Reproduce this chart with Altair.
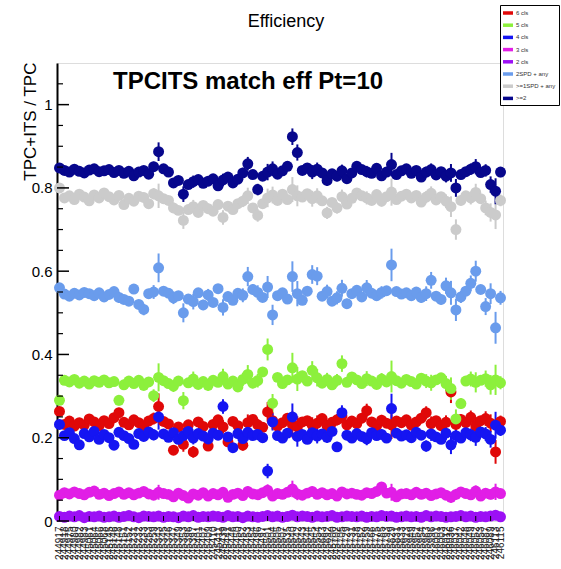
import json
import math
import altair as alt
import pandas as pd

# ---------------- data ----------------
runs = [244917, 244918, 244975, 244980, 244982, 244983, 245061, 245064, 245066, 245068,
        245145, 245146, 245148, 245151, 245152, 245231, 245232, 245233, 245253, 245259,
        245343, 245345, 245346, 245347, 245349, 245353, 245396, 245397, 245401, 245407,
        245409, 245410, 245411, 245439, 245441, 245446, 245450, 245452, 245453, 245454,
        245496, 245497, 245501, 245504, 245505, 245507, 245535, 245540, 245542, 245543,
        245544, 245545, 245554, 245683, 245692, 245700, 245702, 245705, 245729, 245731,
        245738, 245752, 245759, 245766, 245775, 245785, 245793, 245829, 245831, 245833,
        245923, 245949, 245952, 245954, 245963, 245996, 246001, 246003, 246012, 246036,
        246037, 246042, 246048, 246049, 246052, 246053, 246087, 246089, 246113, 246115]

# TPC tracks per run (sets the size of the binomial error bars)
tracks = [4200, 5100, 4800, 5300, 2900, 4600, 5000, 3800, 4900, 4400,
          5200, 2600, 1400, 4700, 3100, 2200, 4300, 1300, 3600, 900,
          200, 3300, 2700, 1100, 3900, 480, 2400, 700, 4100, 1600,
          1200, 3500, 2800, 650, 1700, 3000, 2500, 900, 450, 1500,
          850, 3200, 350, 420, 2900, 3700, 1900, 180, 270, 2100,
          3400, 480, 520, 2600, 900, 3100, 1000, 600, 1800, 2700,
          3900, 2300, 700, 3300, 2000, 1100, 2900, 155, 2400, 3600,
          4100, 2600, 3500, 1500, 800, 600, 2800, 1700, 650, 300,
          350, 1200, 3800, 700, 380, 2500, 600, 400, 170, 900]

names = ["6 cls", "5 cls", "4 cls", "3 cls", "2 cls", "2SPD + any", ">=1SPD + any", ">=2"]
colors = ["#e00808", "#8cf03c", "#1515f2", "#e11ee6", "#9c10f5", "#6a9cec", "#cbcbcb", "#07078c"]

eff_6cls = [0.263, 0.232, 0.240, 0.228, 0.236, 0.230, 0.245, 0.238, 0.229, 0.241,
            0.234, 0.248, 0.260, 0.237, 0.231, 0.243, 0.236, 0.228, 0.240, 0.246,
            0.275, 0.239, 0.233, 0.170, 0.226, 0.184, 0.231, 0.166, 0.238, 0.227,
            0.180, 0.232, 0.243, 0.226, 0.190, 0.239, 0.229, 0.182, 0.236, 0.244,
            0.231, 0.225, 0.262, 0.241, 0.228, 0.236, 0.247, 0.232, 0.226, 0.238,
            0.241, 0.230, 0.235, 0.246, 0.229, 0.237, 0.243, 0.252, 0.231, 0.240,
            0.234, 0.247, 0.265, 0.238, 0.229, 0.242, 0.235, 0.231, 0.240, 0.236,
            0.243, 0.230, 0.238, 0.247, 0.260, 0.234, 0.241, 0.229, 0.237, 0.310,
            0.232, 0.244, 0.236, 0.249, 0.228, 0.241, 0.246, 0.235, 0.166, 0.239]

eff_5cls = [0.290, 0.338, 0.334, 0.340, 0.331, 0.336, 0.329, 0.337, 0.333, 0.339,
            0.332, 0.335, 0.290, 0.327, 0.336, 0.330, 0.338, 0.326, 0.334, 0.301,
            0.345, 0.337, 0.330, 0.324, 0.336, 0.289, 0.332, 0.341, 0.328, 0.335,
            0.326, 0.338, 0.333, 0.347, 0.329, 0.336, 0.322, 0.340, 0.352, 0.331,
            0.337, 0.358, 0.412, 0.283, 0.345, 0.330, 0.339, 0.368, 0.341, 0.349,
            0.336, 0.362, 0.344, 0.331, 0.340, 0.327, 0.338, 0.378, 0.333, 0.346,
            0.339, 0.330, 0.342, 0.336, 0.328, 0.341, 0.334, 0.347, 0.337, 0.331,
            0.340, 0.335, 0.329, 0.343, 0.336, 0.332, 0.339, 0.344, 0.330, 0.318,
            0.245, 0.282, 0.336, 0.341, 0.333, 0.338, 0.342, 0.327, 0.339, 0.332]

eff_4cls = [0.232, 0.205, 0.212, 0.198, 0.183, 0.210, 0.202, 0.215, 0.196, 0.208,
            0.200, 0.182, 0.213, 0.205, 0.198, 0.184, 0.210, 0.203, 0.214, 0.207,
            0.250, 0.209, 0.201, 0.212, 0.196, 0.205, 0.215, 0.199, 0.210, 0.204,
            0.197, 0.211, 0.206, 0.275, 0.202, 0.176, 0.210, 0.198, 0.213, 0.205,
            0.208, 0.200, 0.120, 0.238, 0.205, 0.199, 0.211, 0.250, 0.203, 0.208,
            0.196, 0.212, 0.204, 0.209, 0.201, 0.215, 0.178, 0.260, 0.206, 0.199,
            0.210, 0.203, 0.197, 0.212, 0.205, 0.208, 0.199, 0.270, 0.211, 0.204,
            0.207, 0.200, 0.213, 0.206, 0.180, 0.209, 0.202, 0.196, 0.211, 0.183,
            0.205, 0.199, 0.212, 0.207, 0.201, 0.214, 0.209, 0.196, 0.230, 0.218]

eff_3cls = [0.062, 0.068, 0.065, 0.070, 0.066, 0.063, 0.069, 0.072, 0.064, 0.067,
            0.061, 0.066, 0.070, 0.064, 0.068, 0.063, 0.067, 0.071, 0.065, 0.062,
            0.069, 0.066, 0.064, 0.058, 0.067, 0.061, 0.055, 0.065, 0.062, 0.068,
            0.060, 0.066, 0.063, 0.069, 0.057, 0.064, 0.067, 0.061, 0.071, 0.065,
            0.063, 0.068, 0.074, 0.060, 0.066, 0.064, 0.069, 0.077, 0.065, 0.062,
            0.067, 0.071, 0.064, 0.068, 0.063, 0.066, 0.060, 0.070, 0.065, 0.067,
            0.064, 0.062, 0.068, 0.066, 0.071, 0.082, 0.067, 0.069, 0.058, 0.065,
            0.066, 0.063, 0.069, 0.064, 0.067, 0.061, 0.065, 0.068, 0.062, 0.057,
            0.064, 0.070, 0.066, 0.063, 0.072, 0.060, 0.067, 0.064, 0.070, 0.066]

eff_2cls = [0.011, 0.009, 0.012, 0.010, 0.013, 0.008, 0.011, 0.010, 0.012, 0.009,
            0.010, 0.012, 0.009, 0.011, 0.013, 0.010, 0.008, 0.012, 0.011, 0.010,
            0.012, 0.009, 0.011, 0.010, 0.008, 0.012, 0.010, 0.013, 0.009, 0.011,
            0.010, 0.012, 0.011, 0.009, 0.013, 0.010, 0.011, 0.008, 0.012, 0.010,
            0.009, 0.011, 0.013, 0.010, 0.012, 0.009, 0.011, 0.014, 0.010, 0.012,
            0.011, 0.009, 0.012, 0.010, 0.011, 0.013, 0.009, 0.010, 0.012, 0.011,
            0.010, 0.012, 0.009, 0.011, 0.010, 0.013, 0.011, 0.012, 0.009, 0.010,
            0.012, 0.010, 0.011, 0.009, 0.013, 0.010, 0.012, 0.011, 0.009, 0.010,
            0.011, 0.013, 0.010, 0.012, 0.009, 0.011, 0.010, 0.012, 0.014, 0.010]

eff_2spd = [0.560, 0.545, 0.540, 0.547, 0.543, 0.549, 0.546, 0.541, 0.548, 0.538,
            0.544, 0.551, 0.537, 0.532, 0.528, 0.557, 0.520, 0.508, 0.546, 0.550,
            0.608, 0.552, 0.547, 0.536, 0.541, 0.500, 0.533, 0.527, 0.548, 0.519,
            0.543, 0.525, 0.558, 0.513, 0.539, 0.530, 0.547, 0.542, 0.587, 0.556,
            0.549, 0.537, 0.562, 0.495, 0.541, 0.548, 0.533, 0.587, 0.546, 0.530,
            0.552, 0.592, 0.588, 0.540, 0.551, 0.528, 0.536, 0.559, 0.522, 0.546,
            0.554, 0.538, 0.560, 0.547, 0.541, 0.549, 0.553, 0.615, 0.551, 0.545,
            0.548, 0.541, 0.550, 0.537, 0.546, 0.578, 0.540, 0.532, 0.565, 0.548,
            0.507, 0.538, 0.552, 0.571, 0.600, 0.556, 0.515, 0.546, 0.464, 0.536]

eff_1spd = [0.800, 0.776, 0.781, 0.772, 0.785, 0.778, 0.769, 0.783, 0.776, 0.788,
            0.779, 0.771, 0.782, 0.760, 0.775, 0.768, 0.780, 0.777, 0.762, 0.786,
            0.781, 0.774, 0.770, 0.752, 0.746, 0.722, 0.748, 0.755, 0.741, 0.758,
            0.750, 0.744, 0.760, 0.729, 0.756, 0.748, 0.762, 0.768, 0.781, 0.752,
            0.734, 0.762, 0.776, 0.783, 0.770, 0.785, 0.772, 0.796, 0.781, 0.778,
            0.786, 0.774, 0.781, 0.769, 0.740, 0.765, 0.752, 0.779, 0.761, 0.775,
            0.788, 0.781, 0.776, 0.770, 0.784, 0.768, 0.779, 0.790, 0.772, 0.780,
            0.785, 0.776, 0.782, 0.766, 0.778, 0.787, 0.771, 0.779, 0.768, 0.755,
            0.700, 0.770, 0.781, 0.776, 0.789, 0.774, 0.752, 0.741, 0.735, 0.770]

eff_ge2 = [0.848, 0.842, 0.838, 0.845, 0.840, 0.836, 0.843, 0.846, 0.839, 0.841,
           0.844, 0.837, 0.842, 0.835, 0.840, 0.829, 0.838, 0.842, 0.833, 0.851,
           0.887, 0.846, 0.838, 0.812, 0.818, 0.785, 0.808, 0.815, 0.820, 0.811,
           0.816, 0.822, 0.805, 0.819, 0.826, 0.812, 0.821, 0.836, 0.858, 0.832,
           0.796, 0.828, 0.838, 0.846, 0.833, 0.841, 0.852, 0.923, 0.885, 0.842,
           0.848, 0.838, 0.845, 0.836, 0.818, 0.834, 0.828, 0.841, 0.822, 0.836,
           0.852, 0.844, 0.839, 0.835, 0.847, 0.829, 0.838, 0.856, 0.832, 0.841,
           0.846, 0.835, 0.842, 0.826, 0.838, 0.844, 0.831, 0.839, 0.828, 0.836,
           0.800, 0.832, 0.839, 0.845, 0.851, 0.837, 0.842, 0.808, 0.792, 0.838]

y_label_values = [0, 0.2, 0.4, 0.6, 0.8, 1]
y_minor_ticks = [0.05, 0.1, 0.15, 0.25, 0.3, 0.35, 0.45, 0.5, 0.55, 0.65, 0.7, 0.75,
                 0.85, 0.9, 0.95, 1.05]
x_ticks = [0, 3, 6, 9, 12, 15, 18, 21, 24, 27, 30, 33, 36, 39, 42, 45, 48, 51, 54,
           57, 60, 63, 66, 69, 72, 75, 78, 81, 84, 87]

plot_title = "Efficiency"
inner_title = "TPCITS match eff Pt=10"
y_title = "TPC+ITS / TPC"

# ---------------- build table ----------------
series = [eff_6cls, eff_5cls, eff_4cls, eff_3cls, eff_2cls, eff_2spd, eff_1spd, eff_ge2]
rows = []
for name, vals in zip(names, series):
    for i, (r, v, n) in enumerate(zip(runs, vals, tracks)):
        err = math.sqrt(v * (1 - v) / n)
        rows.append({"idx": i, "run": str(r), "series": name, "eff": v,
                     "lo": v - err, "hi": v + err})
df = pd.DataFrame(rows)

N = len(runs)
W, H = 446, 458
FONT = "Liberation Sans"

x_scale = alt.Scale(domain=[-0.5, N - 0.5], nice=False, zero=False)
y_scale = alt.Scale(domain=[0, 1.1], nice=False, zero=True)
color_scale = alt.Scale(domain=names, range=colors)

label_expr = json.dumps([str(r) for r in runs]) + "[datum.value]"

x_axis = alt.Axis(values=list(range(N)), labelExpr=label_expr, labelAngle=270,
                  labelFontSize=10, labelPadding=5, labelOverlap=False,
                  labelBound=False, labelFlush=False,
                  ticks=False, domain=False, grid=False, title=None,
                  labelColor="#222222", labelFont=FONT)
y_axis = alt.Axis(values=y_label_values, format="~g", ticks=False, grid=False,
                  domain=True, domainColor="black", domainWidth=2,
                  labelFontSize=15, labelPadding=5, labelFont=FONT, labelColor="black",
                  title=y_title, titleFontSize=17, titleFontWeight="normal", titleFont=FONT,
                  titleAngle=270, titleX=-27, titleY=-1, titleAlign="right",
                  titleBaseline="middle", titleColor="black")

legend = alt.Legend(orient="none", legendX=443, legendY=-58, title=None,
                    symbolType="M-1,-0.35L1,-0.35L1,0.35L-1,0.35Z", symbolSize=100,
                    symbolStrokeWidth=0, labelFontSize=6, labelFont=FONT,
                    labelColor="#333333", labelOffset=3, padding=3, rowPadding=4.2,
                    strokeColor="black", fillColor="white")

base = alt.Chart(df)

errbars = base.mark_rule(strokeWidth=2).encode(
    x=alt.X("idx:Q", scale=x_scale, axis=x_axis),
    y=alt.Y("lo:Q", scale=y_scale, axis=y_axis),
    y2="hi:Q",
    color=alt.Color("series:N", scale=color_scale, legend=legend),
)

points = base.mark_circle(size=120, opacity=1).encode(
    x=alt.X("idx:Q", scale=x_scale, axis=x_axis),
    y=alt.Y("eff:Q", scale=y_scale, axis=y_axis),
    color=alt.Color("series:N", scale=color_scale, legend=legend),
)

major = alt.Chart(pd.DataFrame({"v": y_label_values})).mark_rule(
    color="black", strokeWidth=1.5).encode(
    y=alt.Y("v:Q", scale=y_scale, axis=y_axis), x=alt.value(0), x2=alt.value(12))
minor = alt.Chart(pd.DataFrame({"v": y_minor_ticks})).mark_rule(
    color="black", strokeWidth=1.2).encode(
    y=alt.Y("v:Q", scale=y_scale, axis=y_axis), x=alt.value(0), x2=alt.value(6))
xt = alt.Chart(pd.DataFrame({"idx": x_ticks})).mark_rule(
    color="black", strokeWidth=1).encode(
    x=alt.X("idx:Q", scale=x_scale, axis=x_axis), y=alt.value(H), y2=alt.value(H - 5))

label = alt.Chart(pd.DataFrame({"t": [inner_title]})).mark_text(
    align="left", baseline="middle", fontSize=24, fontWeight="bold", font=FONT,
    color="black").encode(text="t:N", x=alt.value(56), y=alt.value(19))

title = alt.Chart(pd.DataFrame({"t": [plot_title]})).mark_text(
    align="center", baseline="alphabetic", fontSize=18, font=FONT,
    color="black").encode(text="t:N", x=alt.value(W / 2 + 6), y=alt.value(-36))

chart = alt.layer(errbars, points, major, minor, xt, label, title).properties(
    width=W, height=H,
    autosize=alt.AutoSizeParams(type="none"),
    padding={"left": 57, "top": 63, "right": 58, "bottom": 48},
).configure_view(stroke="black", strokeWidth=1.2).configure(background="white")

chart.save("out.html", embed_options={"renderer": "svg", "actions": False})
